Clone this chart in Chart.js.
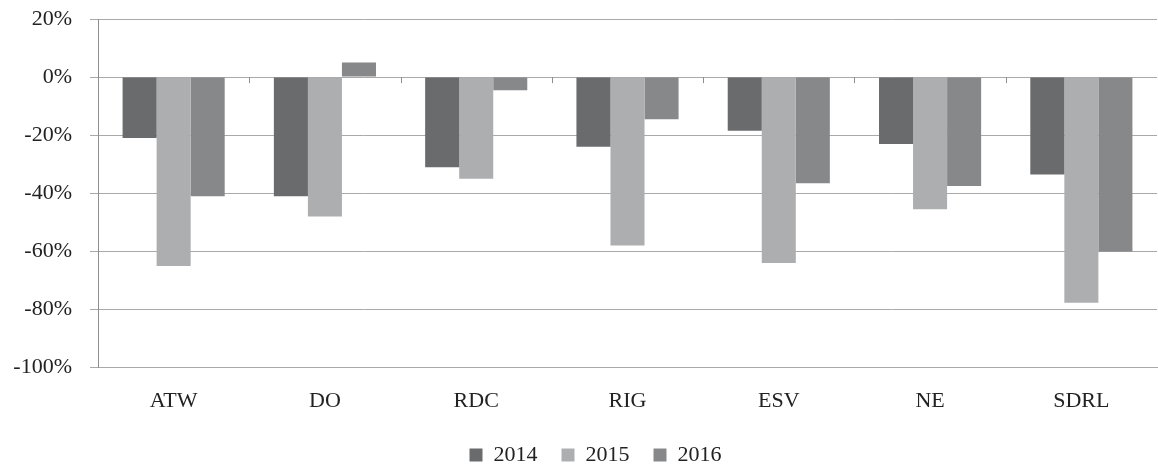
<!DOCTYPE html>
<html>
<head>
<meta charset="utf-8">
<script src="https://cdn.jsdelivr.net/npm/chart.js@4.4.1/dist/chart.umd.min.js"></script>
<style>
  html, body { margin: 0; padding: 0; background: #ffffff; }
  #wrap { width: 1158px; height: 466px; position: relative; }
</style>
</head>
<body>
<div id="wrap"><canvas id="c" width="1158" height="466"></canvas></div>
<script>
const categories = ['ATW', 'DO', 'RDC', 'RIG', 'ESV', 'NE', 'SDRL'];
const seriesNames = ['2014', '2015', '2016'];
const values2014 = [-21, -41, -31, -24, -18.5, -23, -33.5];
const values2015 = [-65, -48, -35, -58, -64, -45.5, -77.7];
const values2016 = [-41, 5, -4.5, -14.5, -36.5, -37.5, -60];
const yTickMin = -100;
const yTickMax = 20;
const yTickStep = 20;

const colors = ['#6a6b6d', '#adaeb0', '#87888a'];
const gridColor = '#a9a9a9';
const axisColor = '#8e8e8e';
const fontFamily = '"Liberation Serif", "Times New Roman", serif';

const zeroTicks = {
  id: 'zeroTicks',
  afterDatasetsDraw(chart) {
    const x = chart.scales.x, y = chart.scales.y;
    const y0 = y.getPixelForValue(0);
    const ctx = chart.ctx;
    ctx.save();
    ctx.strokeStyle = axisColor;
    ctx.lineWidth = 1;
    for (let i = 0; i < categories.length - 1; i++) {
      const px = Math.round((x.getPixelForValue(i) + x.getPixelForValue(i + 1)) / 2) + 0.5;
      ctx.beginPath();
      ctx.moveTo(px, y0);
      ctx.lineTo(px, y0 + 6);
      ctx.stroke();
    }
    ctx.restore();
  }
};

// nudge the legend box (centred a little right of the canvas, and a bit higher)
const legendNudge = {
  id: 'legendNudge',
  afterLayout(chart) {
    const L = chart.legend;
    if (!L) return;
    L.left += 17; L.right += 17;
    L.top -= 14; L.bottom -= 14;
  }
};

new Chart(document.getElementById('c'), {
  type: 'bar',
  data: {
    labels: categories,
    datasets: [
      { label: seriesNames[0], data: values2014, backgroundColor: colors[0] },
      { label: seriesNames[1], data: values2015, backgroundColor: colors[1] },
      { label: seriesNames[2], data: values2016, backgroundColor: colors[2] }
    ]
  },
  options: {
    responsive: false,
    animation: false,
    devicePixelRatio: 1,
    layout: { padding: { left: 0, right: 1, top: 0, bottom: -24 } },
    datasets: { bar: { categoryPercentage: 0.675, barPercentage: 1.0, borderWidth: 0 } },
    plugins: {
      tooltip: { enabled: false },
      legend: {
        position: 'bottom',
        labels: {
          boxWidth: 13,
          boxHeight: 13,
          padding: 24,
          color: '#222',
          font: { family: fontFamily, size: 22 }
        }
      }
    },
    scales: {
      x: {
        grid: { display: false, drawTicks: false },
        border: { display: true, color: gridColor, width: 1 },
        ticks: { color: '#222', padding: 20, font: { family: fontFamily, size: 22 } }
      },
      y: {
        min: yTickMin,
        max: yTickMax,
        afterFit(scale) { scale.width = 98; scale.paddingTop = 19; scale.paddingBottom = 0; },
        grid: { color: gridColor, lineWidth: 1, tickLength: 8, tickColor: gridColor },
        border: { display: true, color: axisColor, width: 1 },
        ticks: {
          stepSize: yTickStep,
          padding: 18,
          color: '#222',
          font: { family: fontFamily, size: 22 },
          callback: v => v + '%'
        }
      }
    }
  },
  plugins: [zeroTicks, legendNudge]
});
</script>
</body>
</html>
